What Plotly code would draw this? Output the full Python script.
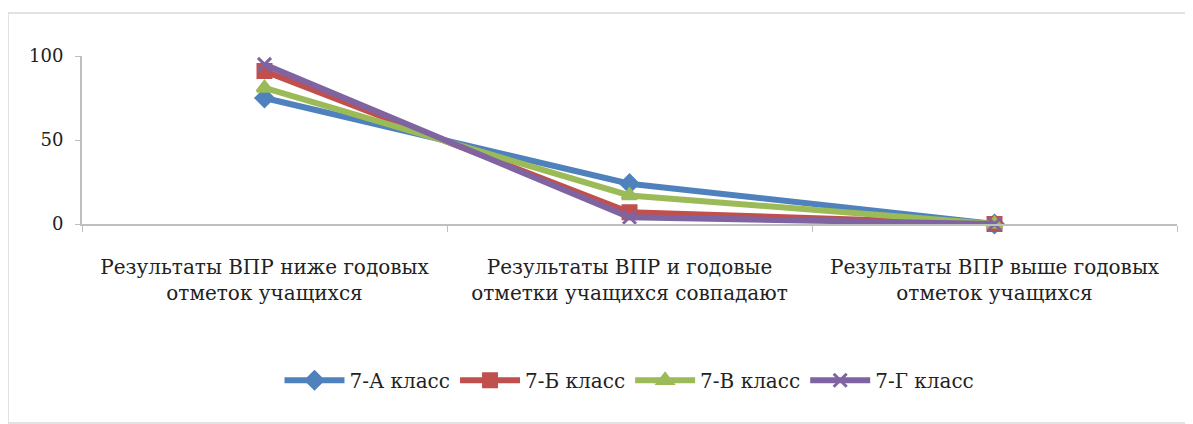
import plotly.graph_objects as go

categories = [
    "Результаты ВПР ниже годовых<br>отметок учащихся",
    "Результаты ВПР и годовые<br>отметки учащихся совпадают",
    "Результаты ВПР выше годовых<br>отметок учащихся",
]
series_names = ["7-А класс", "7-Б класс", "7-В класс", "7-Г класс"]
values_a = [75, 24, 0]
values_b = [91, 7, 0]
values_v = [81, 17, 0]
values_g = [95, 4, 0]
y_ticks = [0, 50, 100]

colors = ["#4F81BD", "#C0504D", "#9BBB59", "#8064A2"]
symbols = ["diamond", "square", "triangle-up", "x-thin"]
all_values = [values_a, values_b, values_v, values_g]

FONT = "DejaVu Serif"

fig = go.Figure()
for name, vals, c, s in zip(series_names, all_values, colors, symbols):
    fig.add_trace(go.Scatter(
        x=categories, y=vals, name=name, mode="lines+markers",
        line=dict(color=c, width=6),
        marker=dict(symbol=s, size=13, color=c, line=dict(color=c, width=3)),
        cliponaxis=False,
    ))

fig.update_layout(
    width=1193, height=424,
    margin=dict(l=74, r=24, t=48, b=208),
    paper_bgcolor="white", plot_bgcolor="white",
    font=dict(family=FONT, size=20, color="#222222"),
    showlegend=True,
    legend=dict(orientation="h", x=0.5, xanchor="center", y=-0.93, yanchor="middle",
                font=dict(family=FONT, size=20, color="#222222"),
                itemwidth=60, tracegroupgap=0),
    xaxis=dict(type="category", range=[-0.5, 2.5], showgrid=False,
               showline=True, linecolor="#BFBFBF", linewidth=2,
               ticks="outside", tickson="boundaries", ticklen=6, tickcolor="#BFBFBF",
               ticklabelstandoff=24,
               tickfont=dict(family=FONT, size=20, color="#222222")),
    yaxis=dict(range=[0, 100], tickvals=y_ticks, showgrid=False, zeroline=False,
               showline=True, linecolor="#BFBFBF", linewidth=2,
               ticks="outside", ticklen=5, tickcolor="#BFBFBF",
               ticklabelstandoff=8,
               tickfont=dict(family=FONT, size=18, color="#222222")),
)

fig.add_shape(type="rect", xref="paper", yref="paper",
              x0=(8 - 82) / 1095, x1=(1187 - 82) / 1095,
              y0=(224 - 423) / 168, y1=(224 - 13) / 168,
              line=dict(color="#D9D9D9", width=1.5), layer="below")

fig.write_html("out.html")
